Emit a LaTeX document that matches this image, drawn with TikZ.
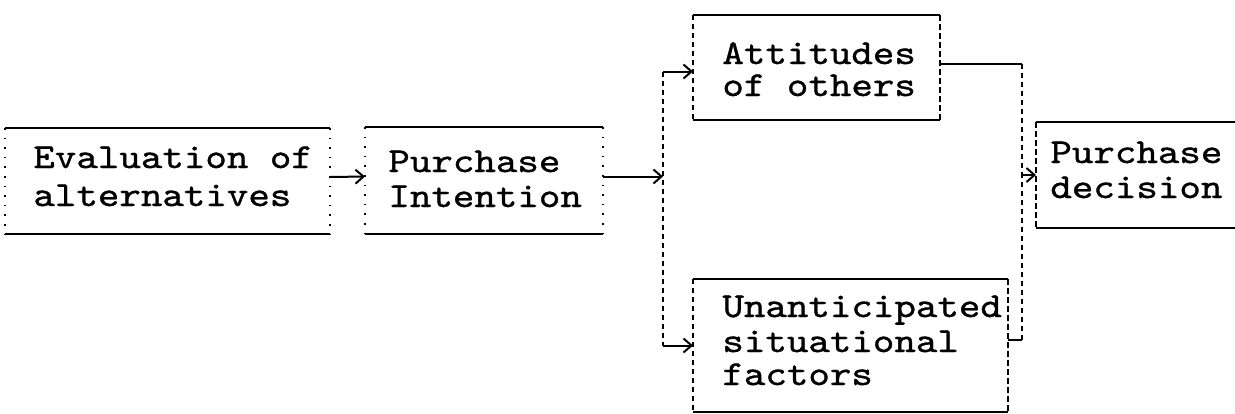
\documentclass[tikz,border=0pt]{standalone}
\usepackage{fontspec}
\newfontfamily\typefont{lmmono10-regular}[Extension=.otf,FakeStretch=1.17,FakeBold=1.0]
\usetikzlibrary{arrows.meta,fit}
\begin{document}
\begin{tikzpicture}[x=0.5pt,y=-0.5pt,
  frame/.style={inner sep=0pt, outer sep=0pt, draw=none},
  boxtext/.style={anchor=base west, inner sep=0pt,
    font=\typefont\fontsize{17.5}{17.5}\selectfont},
  hrule/.style={line width=1.1pt},
  sparse/.style={line width=0.6pt, dash pattern=on 0.8pt off 4pt},
  dashside/.style={line width=0.8pt, dash pattern=on 3pt off 1.5pt},
  arr/.style={line width=1pt, -{Straight Barb[length=4pt,width=7pt]}},
  link/.style={line width=1pt},
  tie/.style={line width=0.7pt, dash pattern=on 2.5pt off 2pt},
]
\useasboundingbox (0,0) rectangle (1235,413);
\clip (0,0) rectangle (1235,413);

% box frames: solid top and bottom rules, lighter sides
\newcommand\frameit[3]{%
  \draw[hrule] (#1.north west) -- (#1.north east);
  \draw[hrule] (#1.south west) -- (#1.south east);
  \draw[#2] (#1.north west) -- (#1.south west);
  \draw[#3] (#1.north east) -- (#1.south east);}

\node[frame, fit={(5,128) (330,234)}] (eval) {};
\node[frame, fit={(365,127) (603,234)}] (intent) {};
\node[frame, fit={(693,15) (940,120)}] (att) {};
\node[frame, fit={(693,279) (1008,412)}] (unant) {};
\node[frame, fit={(1036,122) (1240,228)}] (dec) {};

\frameit{eval}{sparse}{sparse}
\frameit{intent}{sparse}{sparse}
\frameit{att}{tie}{dashside}
\frameit{unant}{tie}{dashside}
\frameit{dec}{dashside}{sparse}

% texts
\node[boxtext] (evalt) at (33,168)
  {\begin{tabular}[t]{@{}l@{}}Evaluation of\\[1.5pt]alternatives\end{tabular}};
\node[boxtext] (intentt) at (388,172)
  {\begin{tabular}[t]{@{}l@{}}Purchase\\Intention\end{tabular}};
\node[boxtext] (attt) at (722,64)
  {\begin{tabular}[t]{@{}l@{}}Attitudes\\[-1.5pt]of others\end{tabular}};
\node[boxtext] (dect) at (1050,163)
  {\begin{tabular}[t]{@{}l@{}}Purchase\\decision\end{tabular}};
\node[boxtext] (unantt) at (722,317)
  {\begin{tabular}[t]{@{}l@{}}Unanticipated\\situational\\[-1pt]factors\end{tabular}};

% connectors
\draw[arr] ([yshift=2pt]eval.east) -- ([yshift=2pt]intent.west);
\coordinate (split) at (663,176.5);
\draw[arr] ([yshift=2pt]intent.east) -- (split);

\path ([yshift=-2pt]att.west) coordinate (attin);
\draw[tie] (attin -| split) -- (unant.west -| split);
\draw[arr] (attin -| split) -- (attin);
\draw[arr] (unant.west -| split) -- (unant.west);

\coordinate (merge) at (1022,175);
\path ([yshift=1.75pt]att.east) coordinate (attout);
\draw[link] (attout) -- (attout -| merge);
\draw[tie] (attout -| merge) -- (merge);
\path ([yshift=3pt]unant.east) coordinate (unout);
\draw[link] (unout) -- (unout -| merge);
\draw[tie] (unout -| merge) -- (merge);
\draw[arr] (merge) -- (dec.west);
\end{tikzpicture}
\end{document}
